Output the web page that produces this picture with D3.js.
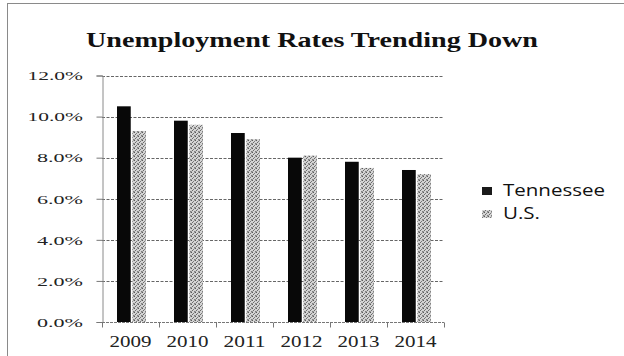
<!DOCTYPE html>
<html>
<head>
<meta charset="utf-8">
<script src="https://cdn.jsdelivr.net/npm/d3@7"></script>
<style>
  html, body { margin: 0; padding: 0; background: #fff; }
  svg { display: block; }
</style>
</head>
<body>
<svg id="chart" width="624" height="356"></svg>
<script>
// Annual unemployment rates (%)
const years = ["2009", "2010", "2011", "2012", "2013", "2014"];
const seriesNames = ["Tennessee", "U.S."];
const tennessee = [10.5, 9.8, 9.2, 8.0, 7.8, 7.4];
const us = [9.3, 9.6, 8.9, 8.1, 7.5, 7.2];
const yTicks = [0, 2, 4, 6, 8, 10, 12];
const chartTitle = "Unemployment Rates Trending Down";

const svg = d3.select("#chart");

// halftone-style fill for the U.S. series
const defs = svg.append("defs");
const pat = defs.append("pattern")
  .attr("id", "usFill").attr("patternUnits", "userSpaceOnUse")
  .attr("width", 4).attr("height", 4);
pat.append("rect").attr("width", 4).attr("height", 4).attr("fill", "#d4d4d4");
[[0, 0, "#5a5a5a"], [2, 1, "#7a7a7a"], [1, 2, "#6a6a6a"], [3, 3, "#808080"], [3, 0, "#a0a0a0"], [0, 3, "#999"]]
  .forEach(([px, py, c]) => pat.append("rect")
    .attr("x", px).attr("y", py).attr("width", 1).attr("height", 1).attr("fill", c));

const colors = { "Tennessee": "#080808", "U.S.": "url(#usFill)" };

// outer frame
svg.append("rect")
  .attr("x", 7.5).attr("y", 3.5).attr("width", 640).attr("height", 400)
  .attr("fill", "none").attr("stroke", "#8a8a8a").attr("stroke-width", 1);

// title
svg.append("text")
  .attr("x", 86).attr("y", 47)
  .attr("textLength", 452).attr("lengthAdjust", "spacingAndGlyphs")
  .style("font-family", "'Liberation Serif', 'DejaVu Serif', serif")
  .style("font-weight", "bold").style("font-size", "22px")
  .attr("fill", "#111")
  .text(chartTitle);

// scales
const x0 = d3.scaleBand().domain(years).range([102, 444]).padding(0);
const x1 = d3.scaleBand().domain(seriesNames)
  .range([15, x0.bandwidth() - 13]).paddingInner(0.1);
const y = d3.scaleLinear().domain([0, 12]).range([322, 75.5]);

// gridlines
svg.append("g").selectAll("line").data(yTicks.filter(d => d > 0)).join("line")
  .attr("x1", 102).attr("x2", 444)
  .attr("y1", d => Math.round(y(d)) + 0.5).attr("y2", d => Math.round(y(d)) + 0.5)
  .attr("stroke", "#666").attr("stroke-width", 1).attr("stroke-dasharray", "3,1.5");

// bars
const groups = svg.append("g").selectAll("g").data(years).join("g")
  .attr("transform", d => `translate(${x0(d)},0)`);
groups.selectAll("rect")
  .data((d, i) => [
    { key: "Tennessee", value: tennessee[i] },
    { key: "U.S.", value: us[i] }
  ])
  .join("rect")
  .attr("x", d => x1(d.key))
  .attr("width", x1.bandwidth())
  .attr("y", d => y(d.value))
  .attr("height", d => y(0) - y(d.value))
  .attr("fill", d => colors[d.key]);

// y axis
const yAxis = svg.append("g").attr("transform", "translate(102.5,0)")
  .call(d3.axisLeft(y).tickValues(yTicks).tickSize(6).tickFormat(() => ""));
yAxis.select(".domain").attr("stroke", "#8a8a8a");
yAxis.selectAll(".tick line").attr("stroke", "#777");

svg.append("g").selectAll("text").data(yTicks).join("text")
  .attr("x", 83).attr("y", d => y(d) + 4.8)
  .attr("text-anchor", "end")
  .attr("textLength", d => d3.format(".1f")(d).replace(".", "").length * 9.5 + 27)
  .attr("lengthAdjust", "spacingAndGlyphs")
  .style("font-family", "'Liberation Serif', 'DejaVu Serif', serif")
  .style("font-size", "13px").attr("fill", "#222")
  .text(d => d3.format(".1f")(d) + "%");

// x axis
const xAxisG = svg.append("g").attr("transform", "translate(0,322.5)");
xAxisG.append("line").attr("x1", 102).attr("x2", 444)
  .attr("stroke", "#777").attr("stroke-dasharray", "3,1");
xAxisG.selectAll("line.tk").data(years.map(d => x0(d)).concat([x0.range()[1]])).join("line")
  .attr("class", "tk")
  .attr("x1", d => Math.round(d) + 0.5).attr("x2", d => Math.round(d) + 0.5)
  .attr("y1", 0).attr("y2", 5).attr("stroke", "#777");

svg.append("g").selectAll("text").data(years).join("text")
  .attr("x", d => x0(d) + x0.bandwidth() / 2 - 21).attr("y", 347)
  .attr("textLength", 42).attr("lengthAdjust", "spacingAndGlyphs")
  .style("font-family", "'Liberation Serif', 'DejaVu Serif', serif")
  .style("font-size", "16px").attr("fill", "#222")
  .text(d => d);

// legend
const legend = svg.append("g");
const legendRows = [
  { key: "Tennessee", y: 187, ty: 195.5, len: 102 },
  { key: "U.S.", y: 210, ty: 219, len: 37 }
];
legend.selectAll("rect").data(legendRows).join("rect")
  .attr("x", 482).attr("y", d => d.y).attr("width", 10).attr("height", 8)
  .attr("fill", d => d.key === "U.S." ? "url(#usFill)" : "#1a1a1a");
legend.selectAll("text").data(legendRows).join("text")
  .attr("x", 503).attr("y", d => d.ty)
  .attr("textLength", d => d.len).attr("lengthAdjust", "spacingAndGlyphs")
  .style("font-family", "'Open Sans', 'Noto Sans', sans-serif")
  .style("font-size", "16px").attr("fill", "#111")
  .text(d => d.key);
</script>
</body>
</html>
